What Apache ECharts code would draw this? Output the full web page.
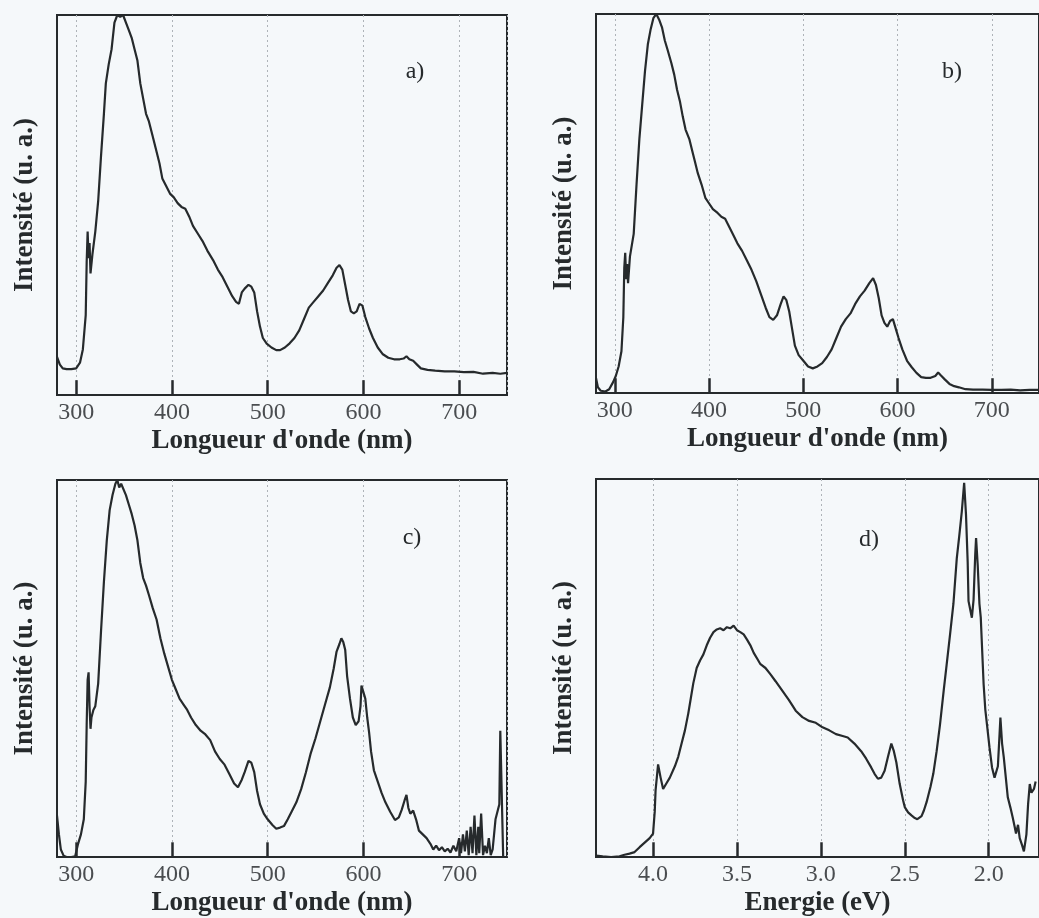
<!DOCTYPE html>
<html>
<head>
<meta charset="utf-8">
<script src="https://cdn.jsdelivr.net/npm/echarts@6/dist/echarts.min.js"></script>
<style>
  html, body { margin: 0; padding: 0; background: #f5f8fa; }
  #main { width: 1039px; height: 918px; }
</style>
</head>
<body>
<div id="main"></div>
<script>
// spectra, [x, intensity in % of frame height]
let specA = [[280,10],[283,8],[286,7],[290,6.8],[295,6.8],[300,7],[304,8.5],[307,12],[310,21],[311,35],[312,43],[313,36],[314,40],[315,32],[317,37],[320,43],[323,51],[326,63],[329,74],[331,82],[334,87],[337,91],[340,98],[343,100],[346,99.5],[349,100],[352,98],[355,96],[358,94],[361,91],[364,88],[367,82],[370,78],[373,74],[376,72],[380,68],[384,64],[387,61],[390,57],[394,55],[398,53],[402,52],[406,50.5],[410,49.5],[414,49],[418,47],[422,44.5],[427,42.5],[432,40.5],[437,38],[443,35.5],[448,33],[453,31],[458,28.5],[463,26],[467,24.5],[470,24],[473,27],[476,28],[480,29],[483,28.5],[486,27],[489,22],[492,18],[495,15],[499,13.5],[504,12.5],[509,11.8],[513,11.8],[518,12.5],[523,13.6],[528,15],[533,17],[538,20],[543,23],[548,24.5],[553,26],[558,27.5],[563,29.5],[568,31.5],[572,33.5],[575,34.2],[578,33],[581,29],[584,25],[587,22],[590,21.5],[593,22],[596,24],[599,23.5],[602,20.5],[606,17.5],[610,15],[615,12.5],[620,10.8],[626,9.8],[632,9.4],[638,9.4],[642,9.6],[645,10.2],[648,9.4],[652,9],[656,8],[660,7],[667,6.6],[675,6.4],[685,6.2],[695,6.2],[705,6],[715,6.1],[725,5.6],[735,5.8],[743,5.6],[750,5.8]]

let specB = [[280,4],[282,1.5],[285,0.6],[290,0.4],[294,1],[298,2.8],[301,4.5],[304,7],[307,11],[309,20],[310,33],[311,37],[312,30],[313,34],[314,29],[316,36],[320,42],[323,55],[326,67],[329,76],[332,85],[335,92],[338,96],[341,99],[344,100],[347,98.5],[350,96.5],[353,93],[356,90.5],[360,87],[363,84],[366,80],[369,77],[372,73],[375,69.5],[379,67],[382,64],[385,61],[388,58],[392,55],[396,51.5],[400,50],[404,48.5],[409,47.5],[413,46.5],[417,46],[421,44],[425,42],[430,39.5],[435,37.5],[440,35],[445,32.5],[450,29.5],[455,26],[460,22.5],[464,20],[468,19.3],[472,20.5],[476,23.5],[479,25.5],[482,24.5],[485,21.5],[488,17],[491,12.5],[495,10],[500,8.5],[505,7],[510,6.5],[515,7],[520,7.9],[525,9.5],[530,11.5],[535,14.5],[540,17.5],[545,19.5],[550,21],[555,23.5],[560,25.5],[565,27],[570,29],[574,30.3],[577,28.5],[580,25],[583,20.5],[586,18.5],[589,17.5],[592,19],[595,19.5],[598,17],[601,14.5],[605,11.5],[610,8.5],[615,6.8],[620,5.3],[625,4.2],[630,4],[635,4],[640,4.5],[643,5.4],[646,4.6],[650,3.6],[655,2.4],[660,1.8],[665,1.5],[672,1],[680,0.9],[690,0.9],[700,0.8],[710,0.8],[720,0.9],[730,0.7],[740,0.8],[750,0.8]]

let specC = [[280,11],[282,6],[284,2],[287,0.3],[290,0],[295,0],[299,0.2],[302,3.5],[305,6],[308,10],[310,20],[311,35],[312,47],[313,49],[314,40],[315,34],[316,37],[318,39],[320,40],[323,46],[326,60],[329,73],[332,84],[335,92],[338,96],[341,99],[343,100],[345,98],[347,99],[349,98.5],[352,96],[355,93.5],[358,91],[361,88],[364,84],[367,78],[370,74],[373,72],[376,69.5],[380,66],[384,63],[388,58],[392,54],[396,50.5],[400,47],[404,44.5],[408,42],[412,40.5],[416,39],[420,37],[425,35],[430,33.5],[435,32.5],[440,31],[445,28],[450,26],[455,24.5],[460,22],[465,19.5],[469,18.5],[473,20.5],[476,22.5],[480,25.5],[483,25],[486,22.5],[489,17.5],[492,14],[496,11.5],[500,10],[505,8.5],[509,7.5],[513,7.8],[517,8.2],[521,10],[525,12],[530,14.5],[535,18],[540,22.5],[545,27.5],[550,31.5],[555,36],[560,40.5],[565,45],[569,50],[572,54.5],[575,56.5],[577,58],[579,57],[581,55],[583,48],[586,42],[589,37],[592,35],[595,36],[597,40],[598,45.5],[600,46],[602,42],[604,37],[606,33],[608,28],[611,23],[615,20],[619,17],[623,14.5],[628,12],[633,9.8],[637,10.5],[640,12.5],[643,15],[645,16.5],[647,13],[649,11.5],[652,12.3],[655,10],[658,7],[662,6],[666,5],[670,3.5],[673,2],[676,3],[679,1.8],[682,2.6],[685,1.5],[688,2.2],[691,1.2],[694,3],[697,1.5],[700,5],[702,1],[704,6],[706,1.5],[708,7],[710,0.5],[712,8],[714,1],[716,11],[718,0.5],[720,8],[721,1],[723,11.5],[725,0.5],[727,3],[729,1],[731,5],[733,0.5],[735,2],[738,10],[740,12],[742,14],[743,33.5],[745,33],[746,0]]

// panel d is plotted against photon energy (eV), axis reversed
let specD = [[4.34,0.4],[4.30,0.2],[4.25,0],[4.20,0.2],[4.17,0.6],[4.14,0.9],[4.11,1.3],[4.08,2.6],[4.05,3.8],[4.02,5],[4.00,6.2],[3.99,12],[3.985,17.6],[3.97,24.5],[3.955,21],[3.94,18],[3.92,19.5],[3.90,21],[3.87,24],[3.85,26.5],[3.83,30],[3.81,33.5],[3.79,38],[3.775,42],[3.76,46],[3.74,50],[3.72,52],[3.70,53.6],[3.68,56],[3.66,58],[3.64,59.5],[3.62,60.2],[3.60,60.5],[3.58,60],[3.56,60.8],[3.54,60.5],[3.52,61.2],[3.50,60],[3.48,59.5],[3.46,58.9],[3.44,57.5],[3.42,56],[3.40,54],[3.38,52.5],[3.36,51],[3.33,50],[3.30,48.3],[3.27,46.5],[3.23,44],[3.19,41.5],[3.15,38.7],[3.11,37],[3.07,36],[3.03,35.5],[2.99,34.3],[2.95,33.5],[2.91,32.5],[2.87,32],[2.84,31.6],[2.80,30],[2.76,28],[2.73,26],[2.70,23.7],[2.68,22],[2.66,20.7],[2.64,21],[2.62,22.8],[2.60,26.5],[2.58,30],[2.565,28],[2.55,25],[2.53,19.3],[2.51,15],[2.50,13.2],[2.48,11.8],[2.46,11],[2.44,10.3],[2.425,10],[2.40,10.8],[2.386,12.3],[2.37,14.5],[2.347,18.5],[2.33,22],[2.31,28],[2.29,35],[2.268,44],[2.25,51],[2.23,58.9],[2.21,67],[2.19,79],[2.175,85],[2.16,91.4],[2.146,99],[2.135,90.5],[2.125,78],[2.12,67.7],[2.10,63.3],[2.09,68],[2.08,80],[2.075,84.4],[2.065,77],[2.055,67],[2.047,63.3],[2.04,56],[2.03,45.7],[2.02,39],[2.01,35],[1.995,29],[1.98,23.7],[1.965,21],[1.955,21.5],[1.945,24],[1.935,32.5],[1.93,36.9],[1.92,30],[1.91,26.4],[1.90,22],[1.886,15.8],[1.87,13],[1.857,10.5],[1.845,8],[1.837,6.2],[1.825,8.5],[1.815,5],[1.80,3],[1.79,1.5],[1.775,6],[1.765,14],[1.755,19.3],[1.745,17],[1.73,18],[1.72,20]]

let ticksNm = [300, 400, 500, 600, 700]
let ticksEv = [4.0, 3.5, 3.0, 2.5, 2.0]
let panelTags = ['a)', 'b)', 'c)', 'd)']
let xNames = ["Longueur d'onde (nm)", "Longueur d'onde (nm)", "Longueur d'onde (nm)", 'Energie (eV)']
let yName = 'Intensité (u. a.)'

let ink = '#262a2c'
let serif = 'Liberation Serif'
let tickLen = 3.9 // inner tick height, in intensity units (0-100 frame)

// frame boxes in px (b and d run past the right edge of the scan)
let boxes = [
  { left: 57, top: 15, width: 450, height: 380 },
  { left: 596, top: 14, width: 450, height: 379 },
  { left: 57, top: 480, width: 450, height: 378 },
  { left: 596, top: 479, width: 450, height: 379 }
]
let tagPos = [[415, 72], [952, 72], [412, 538], [869, 540]]

function ticksFor(i) {
  return i === 3 ? ticksEv : ticksNm
}

function makeXAxis(i) {
  let energy = i === 3
  let ticks = ticksFor(i)
  return {
    type: 'value',
    gridIndex: i,
    min: energy ? 1.7 : 280,
    max: energy ? 4.34 : 750,
    inverse: energy,
    name: xNames[i],
    nameLocation: 'middle',
    nameGap: 33,
    nameTextStyle: { fontFamily: serif, fontSize: 27, fontWeight: 'bold', color: ink },
    axisLine: { show: true, lineStyle: { color: ink, width: 2 } },
    axisTick: { show: false },
    axisLabel: {
      show: true, margin: 6, customValues: ticks,
      fontFamily: serif, fontSize: 24, color: '#4a4d50',
      formatter: function (v) { return energy ? v.toFixed(1) : String(v) }
    },
    splitLine: { show: true, lineStyle: { color: '#aeb3b8', width: 1, type: [2, 3] } }
  }
}

function makeYAxis(i) {
  return {
    type: 'value',
    gridIndex: i,
    min: 0,
    max: 100,
    name: yName,
    nameLocation: 'middle',
    nameGap: 18,
    nameTextStyle: { fontFamily: serif, fontSize: 27, fontWeight: 'bold', color: ink },
    axisLine: { show: true, lineStyle: { color: ink, width: 2 } },
    axisTick: { show: false },
    axisLabel: { show: false },
    splitLine: { show: false }
  }
}

let specs = [specA, specB, specC, specD]

let option = {
  backgroundColor: '#f5f8fa',
  animation: false,
  grid: boxes.map(b => Object.assign({
    show: true, backgroundColor: 'transparent', borderColor: ink, borderWidth: 2, containLabel: false
  }, b)),
  xAxis: [0, 1, 2, 3].map(makeXAxis),
  yAxis: [0, 1, 2, 3].map(makeYAxis),
  series: specs.map((s, i) => ({
    type: 'line',
    xAxisIndex: i,
    yAxisIndex: i,
    data: s,
    showSymbol: false,
    symbol: 'none',
    lineStyle: { color: ink, width: 2.2 },
    clip: true,
    // the short inner ticks standing on the bottom axis
    markLine: {
      silent: true,
      animation: false,
      symbol: ['none', 'none'],
      label: { show: false },
      lineStyle: { color: ink, width: 2.5, type: 'solid' },
      emphasis: { disabled: true },
      data: ticksFor(i).map(t => [{ coord: [t, 0] }, { coord: [t, tickLen] }])
    }
  })),
  graphic: panelTags.map((t, i) => ({
    type: 'text',
    x: tagPos[i][0],
    y: tagPos[i][1],
    style: {
      text: t, fontFamily: serif, fontSize: 24, fill: ink,
      textAlign: 'center', textVerticalAlign: 'middle'
    }
  }))
}

let chart = echarts.init(document.getElementById('main'), null, { renderer: 'canvas' })
chart.setOption(option)
</script>
</body>
</html>
